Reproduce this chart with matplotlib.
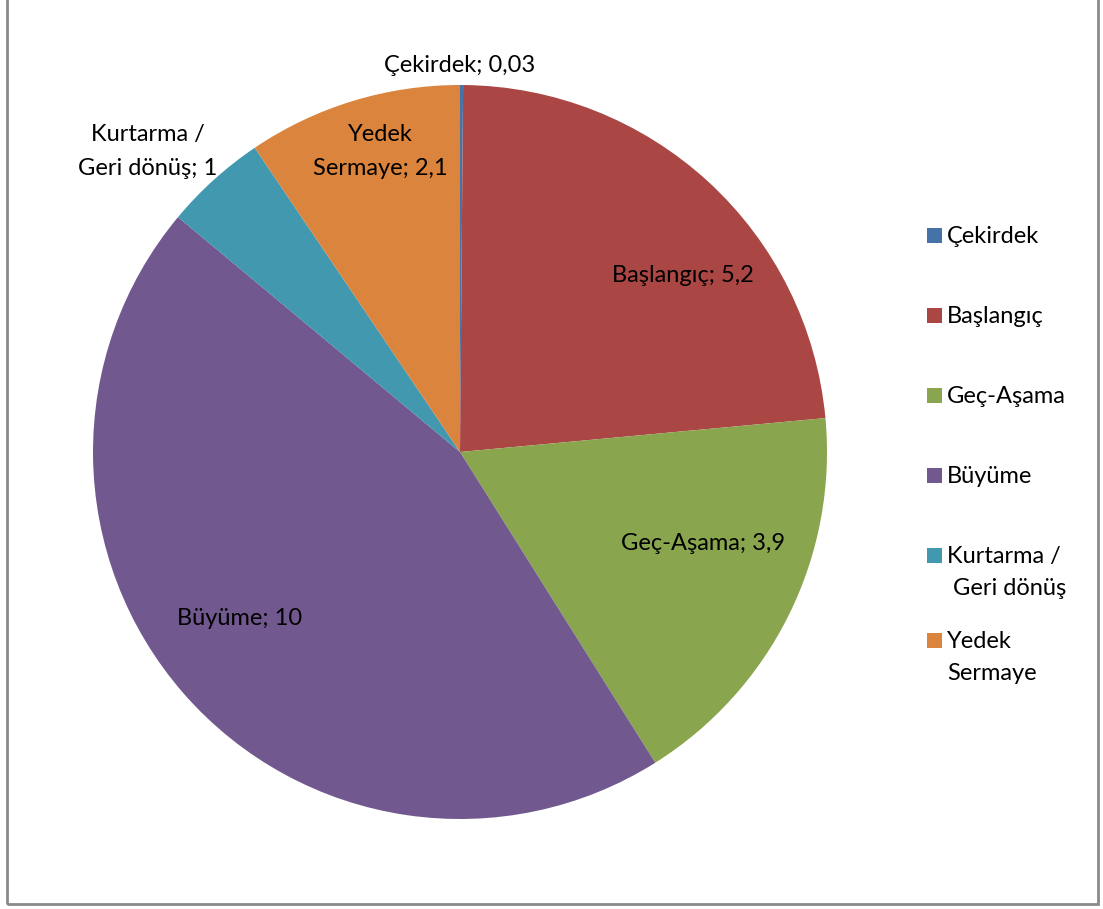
import matplotlib
matplotlib.use("Agg")
import matplotlib.pyplot as plt
from matplotlib.patches import Rectangle

plt.rcParams['font.family'] = ['Lato', 'DejaVu Sans']

# slices, clockwise from 12 o'clock
stages = ["Çekirdek", "Başlangıç", "Geç-Aşama", "Büyüme", "Kurtarma /\nGeri dönüş", "Yedek\nSermaye"]
values = [0.03, 5.2, 3.9, 10, 1, 2.1]
value_text = ["0,03", "5,2", "3,9", "10", "1", "2,1"]
colors = ["#4572A7", "#AA4643", "#89A54E", "#71588F", "#4198AF", "#DB843D"]

legend_labels = ["Çekirdek", "Başlangıç", "Geç-Aşama", "Büyüme", "Kurtarma /\n Geri dönüş", "Yedek\nSermaye"]

# where each data label sits, in pie radius units
label_xy = [(0.0, 1.054), (0.608, 0.482), (0.662, -0.248), (-0.602, -0.455), (-0.850, 0.818), (-0.218, 0.818)]

W, H = 1103, 909
fig = plt.figure(figsize=(W / 100, H / 100), dpi=100)

cx, cy, r = 460, 452, 367
ax = fig.add_axes([(cx - r) / W, (H - cy - r) / H, 2 * r / W, 2 * r / H])
ax.pie(values, colors=colors, startangle=90, counterclock=False, radius=1,
       wedgeprops=dict(linewidth=0))
ax.set_xlim(-1, 1)
ax.set_ylim(-1, 1)
ax.set_aspect('auto')
ax.axis('off')

FS = 17
for name, txt, (x, y) in zip(stages, value_text, label_xy):
    ax.text(x, y, f"{name}; {txt}", ha='center', va='center', fontsize=FS,
            color='black', multialignment='center', linespacing=1.75)

# legend drawn by hand
legend_y = [235, 315, 395, 475, 555, 640]
for lab, col, y in zip(legend_labels, colors, legend_y):
    fig.patches.append(Rectangle((927 / W, 1 - (y + 8) / H), 15 / W, 15 / H,
                                 transform=fig.transFigure, facecolor=col, edgecolor='none'))
    fig.text(947 / W, 1 - (y - 9) / H, lab, ha='left', va='top', fontsize=FS, linespacing=1.65)

# chart frame
fig.patches.append(Rectangle((7 / W, 1 - 904 / H), 1091 / W, 910 / H, transform=fig.transFigure,
                             facecolor='none', edgecolor='#8a8a8a', linewidth=2))

fig.savefig("out.png", dpi=100)
